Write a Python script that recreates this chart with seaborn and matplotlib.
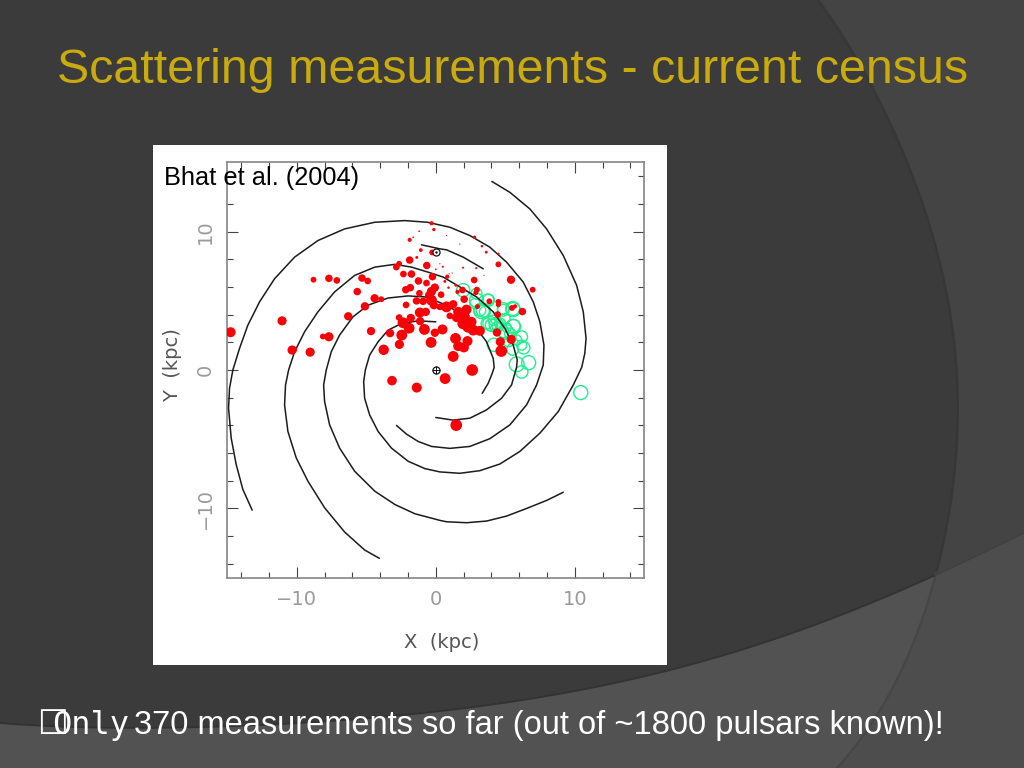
import numpy as np
import pandas as pd
import matplotlib
matplotlib.use("Agg")
import matplotlib.pyplot as plt
import seaborn as sns

TITLE = "Scattering measurements - current census"
CITATION = "Bhat et al. (2004)"
FOOT_BOX = "\u25a1"
FOOT_WORD = "Only"
FOOT_REST = "370 measurements so far (out of ~1800 pulsars known)!"

# spiral arms (kpc)
arm_a_x = [3.34,3.77,4.06,4.2,4.13,3.65,2.93,1.97,0.77,-0.43,-0.79,-1.99,-3.43,-4.88,-5.96,-6.92,-7.52,-7.88,-8.07,-8.0,-7.64,-6.92,-5.84,-4.39,-2.95,-1.51,0.29,0.77,2.21,3.65,5.09,6.53,7.97,9.17]
arm_a_y = [-1.68,-0.96,-0.24,0.2,0.84,2.04,3.0,3.96,4.68,5.16,5.28,5.35,5.2,4.68,3.84,2.52,1.32,0,-1.08,-2.28,-3.96,-5.64,-7.31,-8.75,-9.71,-10.38,-10.86,-10.96,-11.03,-10.91,-10.55,-10.0,-9.42,-8.83]
arm_c_x = [0,-1.27,-2.47,-3.43,-4.15,-4.76,-5.07,-5.19,-5.12,-4.76,-4.15,-3.19,-1.99,-0.79,0.29,1.73,3.17,4.61,6.05,7.49,8.81,9.89,10.5,10.72,10.81,10.61,10.13,9.17,7.97,6.77,5.33,4.03]
arm_c_y = [3.48,3.55,3.36,2.88,2.04,1.08,0,-0.84,-2.04,-3.24,-4.44,-5.64,-6.59,-7.12,-7.36,-7.46,-7.27,-6.79,-5.88,-4.56,-3.0,-1.08,0.2,1.2,2.28,4.2,6.12,8.27,10.19,11.63,12.83,13.62]
arm_d_x = [-2.83,-2.11,-1.27,-0.31,1.01,2.45,3.89,5.33,6.53,7.25,7.73,7.78,7.49,7.01,6.29,5.09,3.89,2.45,1.01,-0.6,-2.23,-4.39,-6.56,-8.48,-10.16,-11.6,-12.68,-13.52,-14.12,-14.6,-14.84,-14.91,-14.72,-14.36,-13.88,-13.21]
arm_d_y = [-4.0,-4.63,-5.16,-5.52,-5.66,-5.52,-4.96,-3.96,-2.52,-1.08,0.36,1.8,3.48,4.92,6.35,7.79,8.87,9.71,10.31,10.67,10.79,10.67,10.19,9.35,8.15,6.59,4.92,3.24,1.56,0,-1.32,-2.76,-4.92,-6.83,-8.63,-10.12]
arm_e_x = [0,1.25,2.45,3.65,4.73,5.45,5.81,5.86,5.57,4.97,4.13,2.93,1.73,0.53,-0.5,-1.75,-2.95,-4.39,-5.84,-7.28,-8.48,-9.44,-10.16,-10.59,-10.81,-10.88,-10.64,-10.04,-9.2,-8.0,-6.56,-5.12,-4.06]
arm_e_y = [-3.43,-3.62,-3.48,-2.88,-2.04,-1.08,0.2,0.72,1.8,3.0,4.2,5.28,6.0,6.71,7.05,7.43,7.63,7.43,6.83,5.64,4.2,2.76,1.32,0,-1.08,-2.52,-4.44,-6.35,-8.03,-9.95,-11.7,-13.0,-13.6]
arm_f_x = [-1.03,0.29,0.77,1.97,3.41]
arm_f_y = [9.04,8.75,8.68,8.15,7.31]
arms_x = [arm_a_x, arm_c_x, arm_d_x, arm_e_x, arm_f_x]
arms_y = [arm_a_y, arm_c_y, arm_d_y, arm_e_y, arm_f_y]

# pulsars with measured scattering (x, y kpc; marker diameter scales with value)
red_x = [1.47,2.62,0.67,-1.37,-3.15,1.25,-3.75,-2.62,-0.34,-2.45,-4.66,-3.29,-1.92,-0.82,-0.07,0.48,1.42,2.28,1.61,2.02,4.71,4.64,5.43,4.40,-1.13,-1.80,-2.36,-2.64,-1.15,-0.72,-2.14,-1.39,-0.91,-0.31,-0.14,0.29,0.77,1.25,1.01,1.49,1.61,2.21,2.04,1.97,2.33,2.69,3.17,2.09,2.57,3.00,4.45,3.85,4.50,4.50,5.48,5.70,6.23,6.97,5.41,2.76,4.50,2.96,2.88,1.92,1.56,0.38,-0.07,-0.31,-0.48,-1.18,-1.83,-2.16,-0.67,-0.24,-1.25,-1.75,-2.33,-0.65,-1.88,-2.64,-2.84,-4.40,-3.92,-5.10,-5.65,-4.90,-5.31,-6.30,-0.26,-0.31,-0.14,-1.20,-1.63,-1.88,0.77,2.79,3.32,1.73,3.63,4.50,-1.08,-1.37,0,0.29,0.50,1.97,2.91,3.46,1.18,0.96,0.82,0.65,0.91,1.44,-14.76,-11.06,-8.80,-7.69,-7.12,-8.13,-7.69,-10.34,-10.19,-9.04]
red_y = [-3.98,0,-0.62,-1.27,-0.77,0.98,1.46,1.85,1.99,2.52,2.81,2.66,3.02,2.93,2.69,2.93,2.28,2.09,1.73,1.63,1.37,2.04,2.21,2.71,3.53,3.76,3.41,3.79,4.15,4.20,4.70,4.99,4.96,5.04,4.68,4.56,4.56,4.75,3.91,3.79,4.20,4.36,5.11,3.36,3.12,2.88,2.83,3.84,3.48,4.58,4.00,4.96,4.92,4.72,4.48,4.60,4.22,5.80,6.52,6.50,7.63,5.80,5.59,5.78,5.64,5.44,5.95,5.68,5.40,5.54,5.95,5.80,6.28,6.74,6.43,6.93,6.93,7.55,7.94,7.67,7.43,5.18,5.11,4.60,5.66,6.43,6.64,3.88,8.49,10.60,10.14,10.02,9.59,9.40,9.71,9.59,8.94,9.09,8.51,8.39,8.66,8.13,7.27,7.67,7.46,7.39,7.36,6.83,7.00,6.95,6.74,6.40,5.95,6.12,2.73,3.55,6.52,6.62,6.47,2.42,2.40,1.44,1.49,1.29]
red_d = [28,28,26,24,23,26,25,22,26,26,20,20,26,26,20,24,26,24,24,24,28,22,22,20,20,20,26,16,24,20,16,18,18,26,20,16,26,20,16,22,24,24,18,28,28,26,24,24,24,12,16,14,14,12,14,10,18,14,20,16,14,14,12,16,10,16,20,22,20,16,18,18,16,18,18,18,16,18,18,14,16,20,14,20,18,16,18,20,14,10,8,4,4,10,3,8,6,3,7,6,9,7,4,3,5,5,5,3,3,3,10,7,6,7,24,22,14,18,16,14,22,22,14,22]

green_x = [10.43,6.68,5.82,6.18,6.32,6.18,5.58,5.53,4.18,5.53,4.86,4.98,3.41,3.17,1.97,2.93,3.77,2.81,4.01,3.65,4.62,4.86,5.34,5.82,6.18,4.38,5.10,3.53,5.22,4.13,2.93,3.77,3.29,4.85,5.57,5.57,3.89,4.37,5.04]
green_y = [-1.63,0.53,0.41,-0.14,1.61,2.40,3.17,1.49,1.82,4.44,4.32,3.72,4.32,4.32,5.76,5.52,5.08,4.80,3.24,3.36,3.36,2.76,2.64,2.16,1.80,3.12,3.07,4.20,2.04,3.60,5.04,5.04,4.27,4.44,4.36,3.12,3.36,3.24,2.76]
green_d = [36,36,38,32,32,30,34,30,34,36,30,26,36,30,34,28,28,26,32,28,28,30,28,26,26,24,24,28,26,26,36,32,40,30,36,38,36,38,38]

sun_x, sun_y = [0.0], [8.5]
centre_x, centre_y = [0.0], [0.0]

x_major = [-10, 0, 10]
x_labels = ["\u221210", "0", "10"]

# background shapes (figure pixels)
curve_x = [818,847,873,900,923,943,955,958,953,937,923,893,860,837]
curve_y = [0,43,90,143,207,277,350,400,483,570,617,687,740,768]
wave_x = [0,130,300,450,560,667,760,860,937,1024]
wave_y = [722,726,723,708,692,670,643,607,572,532]

DARK, RIGHT, LOW, LOWR = "#3b3b3b", "#444444", "#525252", "#4d4d4d"

sns.set_theme(style="white")
plt.rcParams["font.family"] = ["Liberation Sans", "DejaVu Sans"]

fig = plt.figure(figsize=(10.24, 7.68), dpi=100, facecolor=DARK)

bg = fig.add_axes([0, 0, 1, 1], zorder=0)
bg.set_xlim(0, 1024); bg.set_ylim(768, 0); bg.axis("off")
yy = np.linspace(0, 768, 300)
xx = np.polyval(np.polyfit(curve_y, curve_x, 6), yy)
wx = np.linspace(0, 1024, 300)
wy = np.polyval(np.polyfit(wave_x, wave_y, 5), wx)
bg.fill(np.r_[xx, 1024, 1024], np.r_[yy, 768, 0], color=RIGHT, lw=0)
bg.fill(np.r_[wx, 1024, 0], np.r_[wy, 768, 768], color=LOW, lw=0)
cross = np.argmin(np.abs(yy - 572))
wcross = np.argmin(np.abs(wx - xx[cross]))
bg.fill(np.r_[xx[cross:], 1024, wx[wcross:][::-1]], np.r_[yy[cross:], 768, wy[wcross:][::-1]], color=LOWR, lw=0)
bg.plot(xx[:cross + 1], yy[:cross + 1], color="#373737", lw=1.8)
bg.plot(xx[cross:], yy[cross:], color="#464646", lw=1.6)
bg.plot(wx[:wcross + 1], wy[:wcross + 1] + 1, color="#333333", lw=1.6)
bg.plot(wx[wcross:], wy[wcross:] + 1, color="#404040", lw=1.4)
bg.add_patch(plt.Rectangle((153, 145), 514, 520, color="white", lw=0))

W, H = 1024, 768
ax = fig.add_axes([227.3 / W, 1 - 577.7 / H, 417 / W, 415.4 / H], zorder=1)
ax.patch.set_alpha(0)

gf = pd.DataFrame({"x": green_x, "y": green_y, "s": (np.array(green_d) * 0.28) ** 2})
sns.scatterplot(data=gf, x="x", y="y", size="s", sizes=(gf.s.min(), gf.s.max()),
                size_norm=(gf.s.min(), gf.s.max()), legend=False, ax=ax,
                color="#1ff08c", linewidth=1.0, zorder=2)
g = ax.collections[-1]
g.set_facecolor("none"); g.set_edgecolor("#22ee8e")

for ax_, ay_ in zip(arms_x, arms_y):
    sns.lineplot(x=ax_, y=ay_, sort=False, estimator=None, color="#1c1c1c", lw=1.1,
                 ax=ax, zorder=3, solid_joinstyle="round")

rf = pd.DataFrame({"x": red_x, "y": red_y, "s": (np.array(red_d) * 0.30) ** 2})
sns.scatterplot(data=rf, x="x", y="y", size="s", sizes=(rf.s.min(), rf.s.max()),
                size_norm=(rf.s.min(), rf.s.max()), legend=False, ax=ax,
                color="#fb0007", linewidth=0, zorder=4)

sns.scatterplot(x=sun_x, y=sun_y, s=26, color="white", edgecolor="#111111", linewidth=0.9, ax=ax, zorder=5)
sns.scatterplot(x=sun_x, y=sun_y, s=3, color="#111111", linewidth=0, ax=ax, zorder=6)
sns.scatterplot(x=centre_x, y=centre_y, s=26, color="white", edgecolor="#111111", linewidth=0.9, ax=ax, zorder=5)
sns.scatterplot(x=centre_x, y=centre_y, s=26, marker="+", color="#111111", linewidth=0.7, ax=ax, zorder=6)

ax.set_xlim(-15, 15); ax.set_ylim(-15, 15)
ax.set_xticks(x_major); ax.set_yticks(x_major)
ax.set_xticks(np.arange(-14, 15, 2), minor=True)
ax.set_yticks(np.arange(-14, 15, 2), minor=True)
ax.set_xticklabels(x_labels); ax.set_yticklabels(x_labels, rotation=90, va="center")
ax.tick_params(which="major", direction="in", length=8, width=0.8, color="#444444",
               top=True, right=True, left=True, bottom=True, labelsize=14,
               labelcolor="#9a9a9a", pad=9)
ax.tick_params(which="minor", direction="in", length=4, width=0.8, color="#444444",
               top=True, right=True, left=True, bottom=True)
for lab in ax.get_xticklabels() + ax.get_yticklabels():
    lab.set_family(["DejaVu Sans"])
for sp in ax.spines.values():
    sp.set_visible(True); sp.set_color("#858585"); sp.set_linewidth(1.2)

ax.set_xlabel("X  (kpc)", fontsize=14, color="#555555", family=["DejaVu Sans"], va="center")
ax.set_ylabel("Y  (kpc)", fontsize=14, color="#555555", family=["DejaVu Sans"], va="center", ha="center")
ax.xaxis.set_label_coords((441.7 - 227.3) / 417, -(643 - 577.7) / 415.4)
ax.yaxis.set_label_coords(-(227.3 - 173) / 417, (577.7 - 365) / 415.4)

top = fig.add_axes([0, 0, 1, 1], zorder=2)
top.set_xlim(0, 1024); top.set_ylim(768, 0); top.axis("off")
top.text(57, 83, TITLE, fontsize=34.8, color="#c9ab0e", ha="left", va="baseline")
top.text(164, 185, CITATION, fontsize=18.3, color="black", ha="left", va="baseline")
top.text(134, 734, FOOT_REST, fontsize=23.5, color="white", ha="left", va="baseline")
top.text(52, 734, FOOT_WORD, fontsize=23, color="white", family=["DejaVu Sans Mono"], ha="left", va="baseline")
top.text(37, 730, FOOT_BOX, fontsize=23.4, color="white", family=["DejaVu Sans"], ha="left", va="baseline")

fig.savefig("out.png", dpi=100, facecolor=DARK)
